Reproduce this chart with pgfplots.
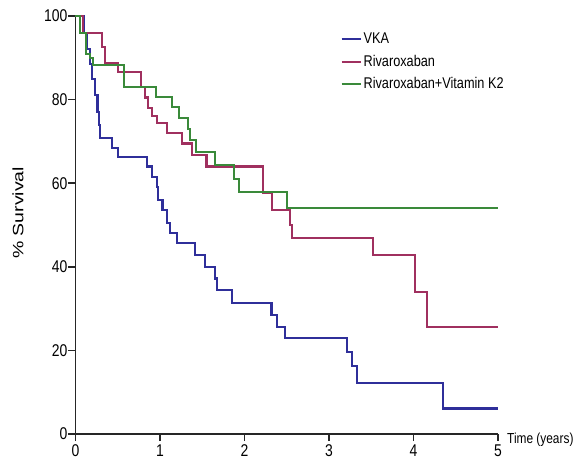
\documentclass[border=0pt]{standalone}
\usepackage{fontspec}
\setmainfont{Liberation Sans}[FakeStretch=0.82]
\newfontfamily\ylabfont{Liberation Sans}[FakeStretch=1.3]
\usepackage{pgfplots}
\pgfplotsset{compat=1.18}
\definecolor{vka}{HTML}{2F2F9A}
\definecolor{riva}{HTML}{A0305F}
\definecolor{rivak}{HTML}{3A8A3A}

\begin{document}
\begin{tikzpicture}
\begin{axis}[
  at={(0,0)}, anchor=origin,
  x=84.5pt, y=4.18pt,
  xmin=0, xmax=5, ymin=0, ymax=100,
  enlarge x limits=false, enlarge y limits=false,
  axis x line=bottom, axis y line=left,
  axis line style={-, line width=1.6pt, black!85},
  xtick={0,1,2,3,4,5},
  ytick={0,20,40,60,80,100},
  tick align=outside,
  major tick length=7pt,
  every tick/.style={line width=1.6pt, black!85},
  tick label style={font=\fontsize{17}{20}\selectfont},
  yticklabel style={inner sep=1pt},
  /pgf/number format/assume math mode=true,
  clip=false,
  ylabel={\% Survival},
  every axis y label/.style={at={(axis description cs:-0.136,0.529)}, rotate=90, anchor=center, font=\ylabfont\fontsize{15}{17}\selectfont},
  legend style={at={(axis description cs:0.627,0.964)}, anchor=north west, draw=none, fill=none,
    font=\fontsize{15.5}{17}\selectfont, row sep=5.8pt, inner sep=0pt},
  legend cell align=left,
  legend image code/.code={\draw[#1, line width=2pt] (0pt,0pt) -- (19pt,0pt);},
  const plot,
]
\addplot[vka, line width=2.1pt] coordinates {
  (0,100) (0.10,96) (0.14,92) (0.17,88.5) (0.20,85) (0.23,81) (0.26,77)
  (0.28,74) (0.29,70.8) (0.43,68.4) (0.50,66.3) (0.85,64) (0.91,61.5)
  (0.96,59) (0.98,56) (1.03,53.6) (1.08,50.5) (1.12,48) (1.20,45.6)
  (1.41,42.8) (1.53,40) (1.655,37.2) (1.67,34.4) (1.85,31.4) (2.32,28.5)
  (2.38,25.7) (2.48,22.9) (3.21,19.7) (3.27,16.3) (3.33,12.1) (4.35,6.1)
  (5,6.1)
};
\addplot[riva, line width=2.1pt] coordinates {
  (0,100) (0.09,95.9) (0.31,92.5) (0.35,88.7) (0.50,86.5) (0.78,83)
  (0.82,80.5) (0.86,78) (0.90,76) (0.96,74.3) (1.08,72) (1.26,69.5)
  (1.375,66.7) (1.55,64) (2.22,57.6) (2.33,53.6) (2.54,50) (2.56,46.8)
  (3.52,42.8) (4.02,34) (4.16,25.7) (5,25.7)
};
\addplot[rivak, line width=2.1pt] coordinates {
  (0,100) (0.05,96) (0.12,91) (0.17,90) (0.21,88.3) (0.57,83) (0.95,80.7)
  (1.14,78.3) (1.22,75.5) (1.335,73) (1.355,70.3) (1.43,67.5) (1.65,64.4)
  (1.875,61) (1.93,58) (2.50,54) (5,54)
};
\legend{VKA,Rivaroxaban,Rivaroxaban+Vitamin K2}
\node[anchor=base west, font=\fontsize{14.5}{17}\selectfont, inner sep=0pt]
  at (axis cs:5,0) [xshift=9pt, yshift=-9pt] {Time (years)};
\end{axis}
\pgfresetboundingbox
\path[use as bounding box] (-75.5pt,-38pt) rectangle (502.5pt,434pt);
\end{tikzpicture}
\end{document}
